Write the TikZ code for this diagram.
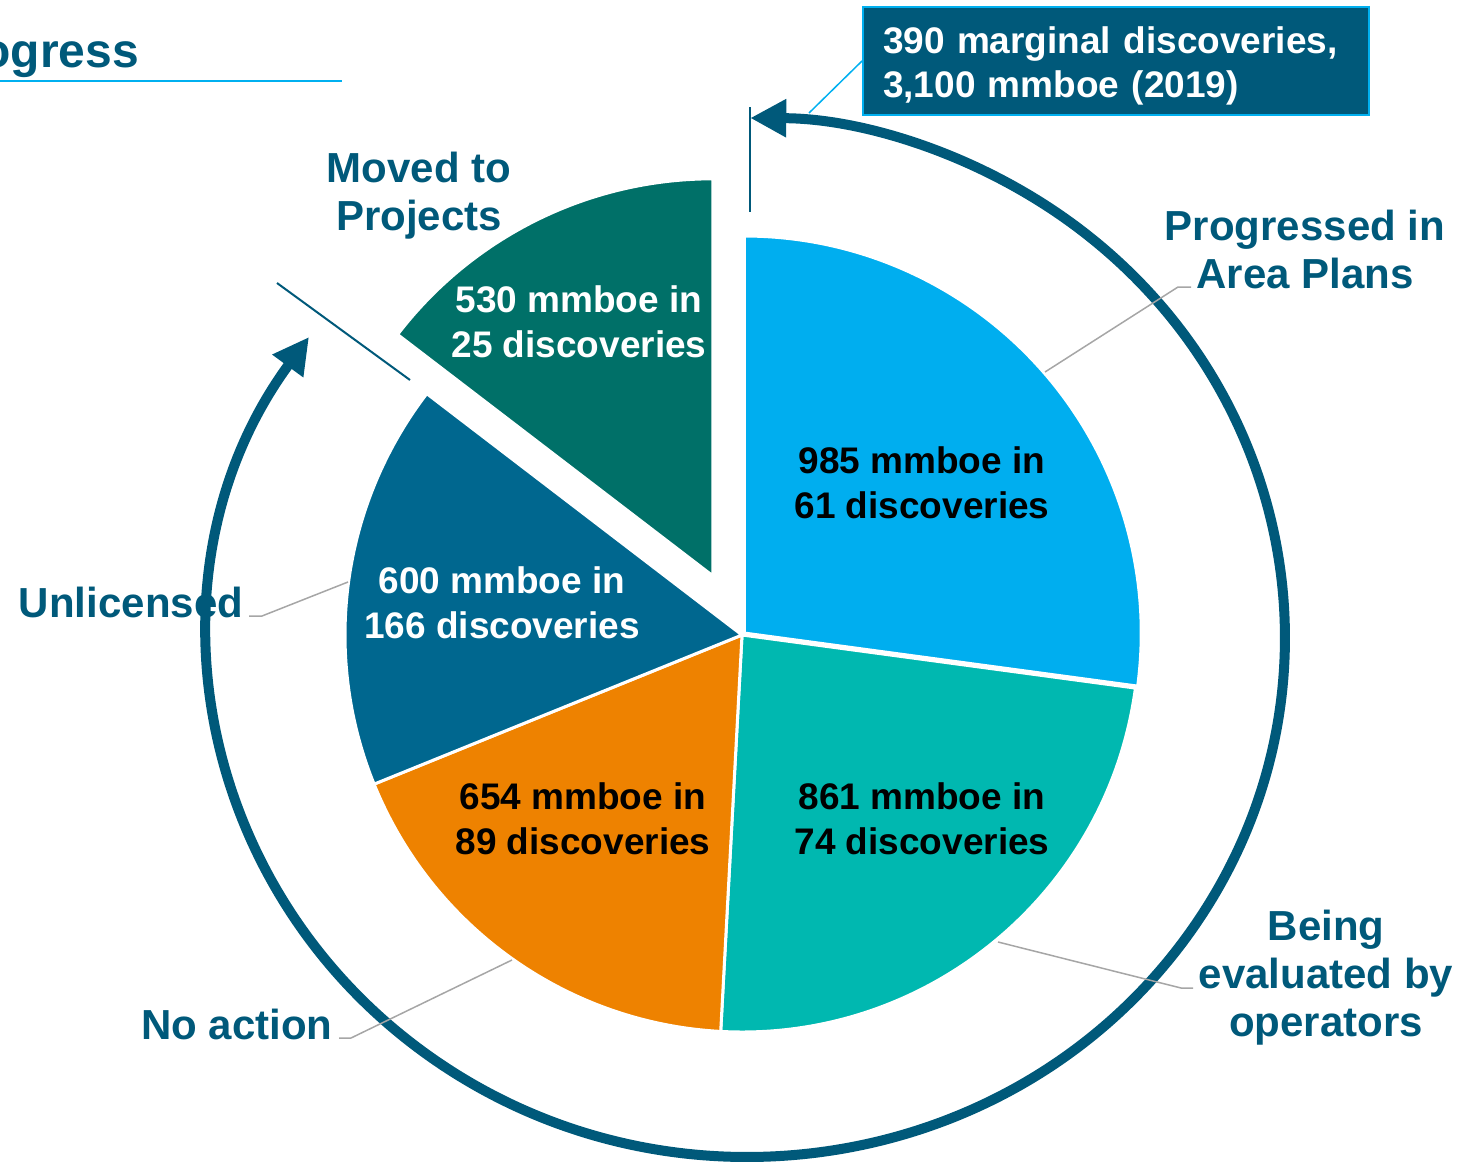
\documentclass[tikz,border=0pt]{standalone}
\usepackage{fontspec}
\setmainfont{Liberation Sans}
\usetikzlibrary{arrows.meta}
\definecolor{ringc}{RGB}{0,89,122}
\definecolor{lblue}{RGB}{0,174,239}
\definecolor{teal1}{RGB}{0,184,176}
\definecolor{orange1}{RGB}{238,130,0}
\definecolor{dblue}{RGB}{0,103,143}
\definecolor{dgreen}{RGB}{0,112,104}
\definecolor{leadc}{RGB}{166,166,166}
\definecolor{cborder}{RGB}{0,176,240}
\begin{document}
\begin{tikzpicture}[x=1pt,y=1pt,
  slice/.style={draw=white,line width=3pt,line join=round},
  lbl/.style={text=ringc,font=\fontsize{42}{48}\selectfont\bfseries,align=center,inner sep=0pt},
  pietxt/.style={font=\fontsize{37}{45}\selectfont\bfseries,align=center,inner sep=0pt},
  leaderline/.style={draw=leadc,line width=1.5pt},
  thinline/.style={draw=ringc,line width=2pt},
  tipA/.tip={Triangle[length=36pt,width=36pt]}]
\clip (0,0) rectangle (1481,-1165);
\useasboundingbox (0,0) rectangle (1481,-1165);
% pie slices
\begin{scope}[shift={(742,-635)}]
  \begin{scope}[shift={(41.16:3pt)}]
    \filldraw[fill=lblue,slice] (0,0) -- (90:397pt) arc[start angle=90, end angle=-7.686, radius=397pt] -- cycle;
  \end{scope}
  \filldraw[fill=teal1,slice] (0,0) -- (-7.686:397pt) arc[start angle=-7.686, end angle=-93.074, radius=397pt] -- cycle;
  \filldraw[fill=orange1,slice] (0,0) -- (-93.074:397pt) arc[start angle=-93.074, end angle=-157.934, radius=397pt] -- cycle;
  \filldraw[fill=dblue,slice] (0,0) -- (-157.934:397pt) arc[start angle=-157.934, end angle=-217.438, radius=397pt] -- cycle;
  \begin{scope}[shift={(116.28:66pt)}]
    \filldraw[fill=dgreen,slice] (0,0) -- (142.562:397pt) arc[start angle=142.562, end angle=90, radius=397pt] -- cycle;
  \end{scope}
\end{scope}
% pie texts
\node[pietxt,text=black] (t985) at (922,-483) {985 mmboe in\\61 discoveries};
\node[pietxt,text=black] (t861) at (922,-819) {861 mmboe in\\74 discoveries};
\node[pietxt,text=black] (t654) at (583,-819) {654 mmboe in\\89 discoveries};
\node[pietxt,text=white] (t600) at (502,-603) {600 mmboe in\\166 discoveries};
\node[pietxt,text=white] (t530) at (579,-322) {530 mmboe in\\25 discoveries};
% title
\node[text=ringc,font=\fontsize{48}{54}\selectfont\bfseries,anchor=base east,inner sep=0pt] (title) at (139,-67) {Progress};
\coordinate (ulA) at (0,-81);
\coordinate (ulB) at (342,-81);
\draw[cborder,line width=2pt] (ulA) -- (ulB);
% labels
\node[lbl] (moved) at (419,-196) {Moved to\\Projects};
\node[lbl] (prog) at (1305,-249) {Progressed in\\Area Plans};
\node[lbl] (unl) at (131,-602) {Unlicensed};
\node[lbl] (noact) at (237,-1024) {No action};
\node[lbl] (being) at (1326,-978) {Being\\evaluated by\\operators};
% ring
\coordinate (ringA) at (309,-337);
\draw[ringc,line width=10pt,tipA-tipA] (ringA) arc[start angle=144.66, end angle=449.7, x radius=537.5pt, y radius=519.5pt];
% thin lines
\coordinate (vA) at (750,-107);
\coordinate (vB) at (750,-212);
\draw[thinline] (vA) -- (vB);
\coordinate (dA) at (277,-283);
\coordinate (dB) at (410,-380);
\draw[thinline] (dA) -- (dB);
% callout
\node[fill=ringc,draw=cborder,line width=2pt,minimum width=506pt,minimum height=108pt,inner sep=0pt] (call) at (1116,-61) {};
\node[text=white,font=\fontsize{37}{44}\selectfont\bfseries,align=left,text width=466pt,inner sep=0pt,anchor=center] (callt) at ([yshift=-5pt]call.center) {390 marginal discoveries,\\3,100 mmboe (2019)};
\coordinate (cA) at (809,-113);
\draw[cborder,line width=1.5pt] (cA) -- (call.west);
% leaders
\coordinate (pA) at (1045,-372);
\coordinate (pB) at (1178,-287);
\coordinate (pC) at (1191,-287);
\draw[leaderline] (pA) -- (pB) -- (pC);
\coordinate (uA) at (348,-582);
\coordinate (uB) at (262,-616);
\coordinate (uC) at (249,-616);
\draw[leaderline] (uA) -- (uB) -- (uC);
\coordinate (nA) at (512,-960);
\coordinate (nB) at (351,-1038);
\coordinate (nC) at (339,-1038);
\draw[leaderline] (nA) -- (nB) -- (nC);
\coordinate (bA) at (998,-942);
\coordinate (bB) at (1181,-988);
\coordinate (bC) at (1193,-988);
\draw[leaderline] (bA) -- (bB) -- (bC);
\end{tikzpicture}
\end{document}
